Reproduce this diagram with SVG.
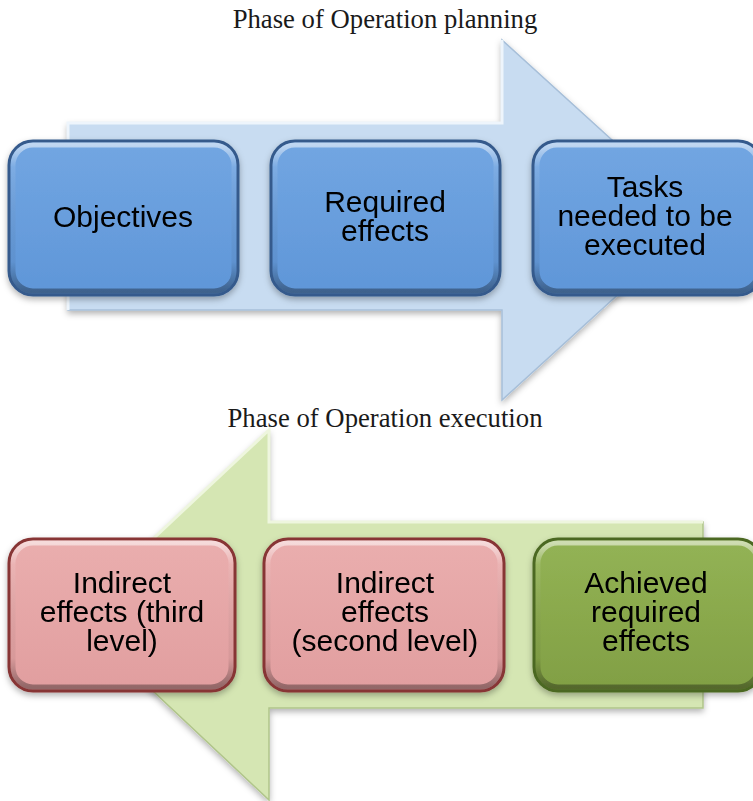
<svg xmlns="http://www.w3.org/2000/svg" width="753" height="801" viewBox="0 0 753 801">
<defs>
<style>
.title{font-family:"Liberation Serif","Times New Roman",serif;font-size:26.7px;fill:#1a1a1a;text-anchor:middle}
.lbl{font-family:"Liberation Sans",Arial,sans-serif;font-size:30px;fill:#000;text-anchor:middle}
.arrowB{fill:#c8dcf1;stroke:#a7bfd9;stroke-width:1.5}
.arrowG{fill:#d5e6b3;stroke:#b0c58a;stroke-width:1.5}
.bevel{fill:none;stroke:url(#bev);stroke-width:5}
</style>
<linearGradient id="bev" x1="0" y1="0" x2="0" y2="1">
<stop offset="0" stop-color="#fff" stop-opacity="0.55"/>
<stop offset="0.15" stop-color="#fff" stop-opacity="0.1"/>
<stop offset="0.8" stop-color="#000" stop-opacity="0.05"/>
<stop offset="1" stop-color="#000" stop-opacity="0.35"/>
</linearGradient>
<linearGradient id="blueF" x1="0" y1="0" x2="0" y2="1">
<stop offset="0" stop-color="#72a6e2"/>
<stop offset="1" stop-color="#5f96d8"/>
</linearGradient>
<linearGradient id="pinkF" x1="0" y1="0" x2="0" y2="1">
<stop offset="0" stop-color="#eaaeae"/>
<stop offset="1" stop-color="#e19e9f"/>
</linearGradient>
<linearGradient id="greenF" x1="0" y1="0" x2="0" y2="1">
<stop offset="0" stop-color="#93b355"/>
<stop offset="1" stop-color="#819f44"/>
</linearGradient>
<filter id="sh" x="-10%" y="-10%" width="120%" height="125%">
<feDropShadow dx="0" dy="3" stdDeviation="3" flood-color="#000" flood-opacity="0.3"/>
</filter>
</defs>
<rect width="753" height="801" fill="#fff"/>

<g id="connectors">
<polygon class="arrowB" filter="url(#sh)" points="68,123 502,123 502,40 700,220 502,400 502,310 68,310"/>
<polyline points="68,310 68,123 502,123 502,40" fill="none" stroke="#eef5fc" stroke-width="3"/>
<polygon class="arrowG" filter="url(#sh)" points="703,522 269,522 269,430 72,615 269,800 269,708 703,708"/>
<polyline points="72,615 269,430 269,522 703,522" fill="none" stroke="#eef6de" stroke-width="3"/>
</g>

<text class="title" x="385" y="28">Phase of Operation planning</text>
<text class="title" x="385" y="427">Phase of Operation execution</text>

<g id="objectives" filter="url(#sh)">
<rect x="9" y="141" width="229" height="154" rx="24" fill="url(#blueF)" stroke="#355a8c" stroke-width="3"/>
<rect x="13" y="145" width="221" height="146" rx="20" class="bevel"/>
<text class="lbl" x="123" y="227">Objectives</text>
</g>
<g id="required-effects" filter="url(#sh)">
<rect x="271" y="141" width="229" height="154" rx="24" fill="url(#blueF)" stroke="#355a8c" stroke-width="3"/>
<rect x="275" y="145" width="221" height="146" rx="20" class="bevel"/>
<text class="lbl" x="385" y="212">Required</text>
<text class="lbl" x="385" y="241">effects</text>
</g>
<g id="tasks" filter="url(#sh)">
<rect x="533" y="141" width="229" height="154" rx="24" fill="url(#blueF)" stroke="#355a8c" stroke-width="3"/>
<rect x="537" y="145" width="221" height="146" rx="20" class="bevel"/>
<text class="lbl" x="645" y="197">Tasks</text>
<text class="lbl" x="645" y="226">needed to be</text>
<text class="lbl" x="645" y="255">executed</text>
</g>

<g id="indirect-third" filter="url(#sh)">
<rect x="9" y="539" width="226" height="152" rx="24" fill="url(#pinkF)" stroke="#873434" stroke-width="3"/>
<rect x="13" y="543" width="218" height="144" rx="20" class="bevel"/>
<text class="lbl" x="122" y="593">Indirect</text>
<text class="lbl" x="122" y="622">effects (third</text>
<text class="lbl" x="122" y="651">level)</text>
</g>
<g id="indirect-second" filter="url(#sh)">
<rect x="264" y="539" width="240" height="152" rx="24" fill="url(#pinkF)" stroke="#873434" stroke-width="3"/>
<rect x="268" y="543" width="232" height="144" rx="20" class="bevel"/>
<text class="lbl" x="385" y="593">Indirect</text>
<text class="lbl" x="385" y="622">effects</text>
<text class="lbl" x="385" y="651">(second level)</text>
</g>
<g id="achieved" filter="url(#sh)">
<rect x="534" y="539" width="228" height="152" rx="24" fill="url(#greenF)" stroke="#4b6821" stroke-width="3"/>
<rect x="538" y="543" width="220" height="144" rx="20" class="bevel"/>
<text class="lbl" x="646" y="593">Achieved</text>
<text class="lbl" x="646" y="622">required</text>
<text class="lbl" x="646" y="651">effects</text>
</g>
</svg>
